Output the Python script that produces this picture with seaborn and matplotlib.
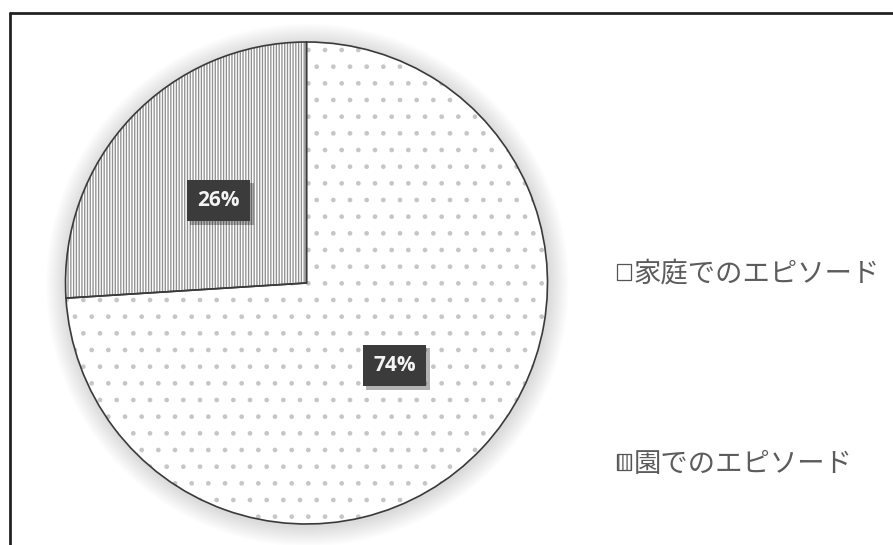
import matplotlib
matplotlib.use("Agg")
import matplotlib.pyplot as plt
import matplotlib.patches as mpatches
import matplotlib.patheffects as pe
from matplotlib.lines import Line2D
import seaborn as sns

categories = ["家庭でのエピソード", "園でのエピソード"]
values = [74, 26]
hatches = [".", "||||||"]
hatch_colors = ['#c6c6c6', '#909090']

sns.set_theme(style="white")
plt.rcParams['font.family'] = ['Noto Sans CJK JP', 'DejaVu Sans']
plt.rcParams['hatch.linewidth'] = 0.95

W, H = 893, 545
fig = plt.figure(figsize=(W / 100, H / 100), dpi=100)
fig.patch.set_facecolor('white')

cx, cy, R = 306.5, 283, 241
ax = fig.add_axes([(cx - R) / W, (H - cy - R) / H, 2 * R / W, 2 * R / H])
ax.set_axis_off()

# soft shadow around the pie
for i in range(12):
    r = 1.0 + 0.007 * (i + 1)
    ax.add_patch(mpatches.Circle((0.004, -0.008), r, color='black', alpha=0.012,
                                 lw=0, zorder=0, clip_on=False))

wedges, _ = ax.pie(values, startangle=90, counterclock=False, radius=1,
                   colors=['white', 'white'],
                   wedgeprops=dict(linewidth=0))
for w, h, c in zip(wedges, hatches, hatch_colors):
    w.set_edgecolor(c)
    w.set_linewidth(0)
    w.set_hatch(h)
    w.set_zorder(2)

outline, _, autotexts = ax.pie(values, startangle=90, counterclock=False, radius=1,
                               autopct='%1.0f%%', pctdistance=0.5,
                               wedgeprops=dict(fill=False, edgecolor='#3a3a3a', linewidth=1.2))
for w in outline:
    w.set_zorder(3)
    w.set_clip_on(False)
for t in autotexts:
    t.set_family(['Open Sans', 'DejaVu Sans'])
    t.set_fontweight('bold')
    t.set_fontsize(15)
    t.set_color('#f4f4f4')
    t.set_zorder(5)
    t.set_bbox(dict(boxstyle='square,pad=0.5', facecolor='#3b3b3b', edgecolor='none'))
    t.get_bbox_patch().set_path_effects([pe.withSimplePatchShadow(offset=(2.5, -2.5), shadow_rgbFace='black', alpha=0.3), pe.Normal()])

ax.set_xlim(-1, 1)
ax.set_ylim(-1, 1)
ax.set_aspect('auto')

plt.rcParams['hatch.linewidth'] = 0.9
handles = [mpatches.Patch(facecolor='white', edgecolor='#555555', linewidth=0.9, hatch=h)
           for h in ["", "||||"]]
leg = fig.legend(handles, categories, loc='upper left',
                 bbox_to_anchor=(617 / W, 1 - 261 / H), bbox_transform=fig.transFigure,
                 frameon=False, fontsize=19.7, labelspacing=5.95,
                 handlelength=0.5, handleheight=0.5, handletextpad=0.12,
                 borderpad=0, borderaxespad=0)
for t in leg.get_texts():
    t.set_color('#5c5c5c')

# outer frame (top and left only are visible)
fig.add_artist(Line2D([10 / W, 1.0], [1 - 13 / H, 1 - 13 / H], color='#222222', lw=2,
                      transform=fig.transFigure))
fig.add_artist(Line2D([10 / W, 10 / W], [0, 1 - 13 / H], color='#222222', lw=2,
                      transform=fig.transFigure))

fig.savefig('out.png', dpi=100, facecolor='white')
